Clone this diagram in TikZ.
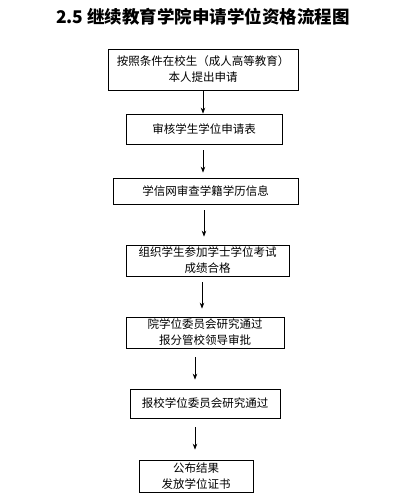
\documentclass[tikz,border=0pt]{standalone}
\usepackage{fontspec}
\newfontfamily\cjk{Noto Sans CJK SC}
\usepackage{tikz}
\usetikzlibrary{arrows.meta}

\begin{document}
\begin{tikzpicture}[x=1pt,y=-1pt,
    every node/.style={inner sep=0pt,align=center,font=\cjk\fontsize{11.5}{16}\selectfont},
    stepbox/.style={draw=black,line width=0.7pt},
    flow/.style={line width=0.8pt,-{Stealth[length=6pt,width=4.5pt]}}]
    \useasboundingbox (0,0) rectangle (400,494);

    \node (title) at (203, 17) {\fontsize{17.5}{20}\selectfont\bfseries 2.5 继续教育学院申请学位资格流程图};

    \node (apply)[stepbox,minimum width=190pt,minimum height=41pt] at (203, 69.5) {按照条件在校生（成人高等教育）\\ 本人提出申请};
    \node (form)[stepbox,minimum width=156pt,minimum height=30pt] at (204, 129) {审核学生学位申请表};
    \node (chsi)[stepbox,minimum width=185pt,minimum height=26pt] at (205.5, 191) {学信网审查学籍学历信息};
    \node (exam)[stepbox,minimum width=163pt,minimum height=31pt] at (207.5, 260.5) {组织学生参加学士学位考试\\ 成绩合格};
    \node (college)[stepbox,minimum width=158pt,minimum height=31pt] at (205, 332.5) {院学位委员会研究通过\\ 报分管校领导审批};
    \node (school)[stepbox,minimum width=150pt,minimum height=29pt] at (205, 403.5) {报校学位委员会研究通过};
    \node (result)[stepbox,minimum width=114pt,minimum height=32pt] at (196, 476) {公布结果\\ 发放学位证书};

    \draw [flow] (apply.south) -- (apply.south |- form.north);
    \draw [flow,shorten <=6pt,shorten >=5pt] ([xshift=-1pt]form.south) -- ([xshift=-1pt]form.south |- chsi.north);
    \draw [flow,shorten <=6pt,shorten >=8pt] ([xshift=-1.5pt]chsi.south) -- ([xshift=-1.5pt]chsi.south |- exam.north);
    \draw [flow,shorten <=6pt,shorten >=8pt] ([xshift=-5.5pt]exam.south) -- ([xshift=-5.5pt]exam.south |- college.north);
    \draw [flow,shorten <=9pt,shorten >=9pt] ([xshift=-10pt]college.south) -- ([xshift=-10pt]college.south |- school.north);
    \draw [flow,shorten <=9pt,shorten >=10pt] ([xshift=-10pt]school.south) -- ([xshift=-10pt]school.south |- result.north);
\end{tikzpicture}
\end{document}
